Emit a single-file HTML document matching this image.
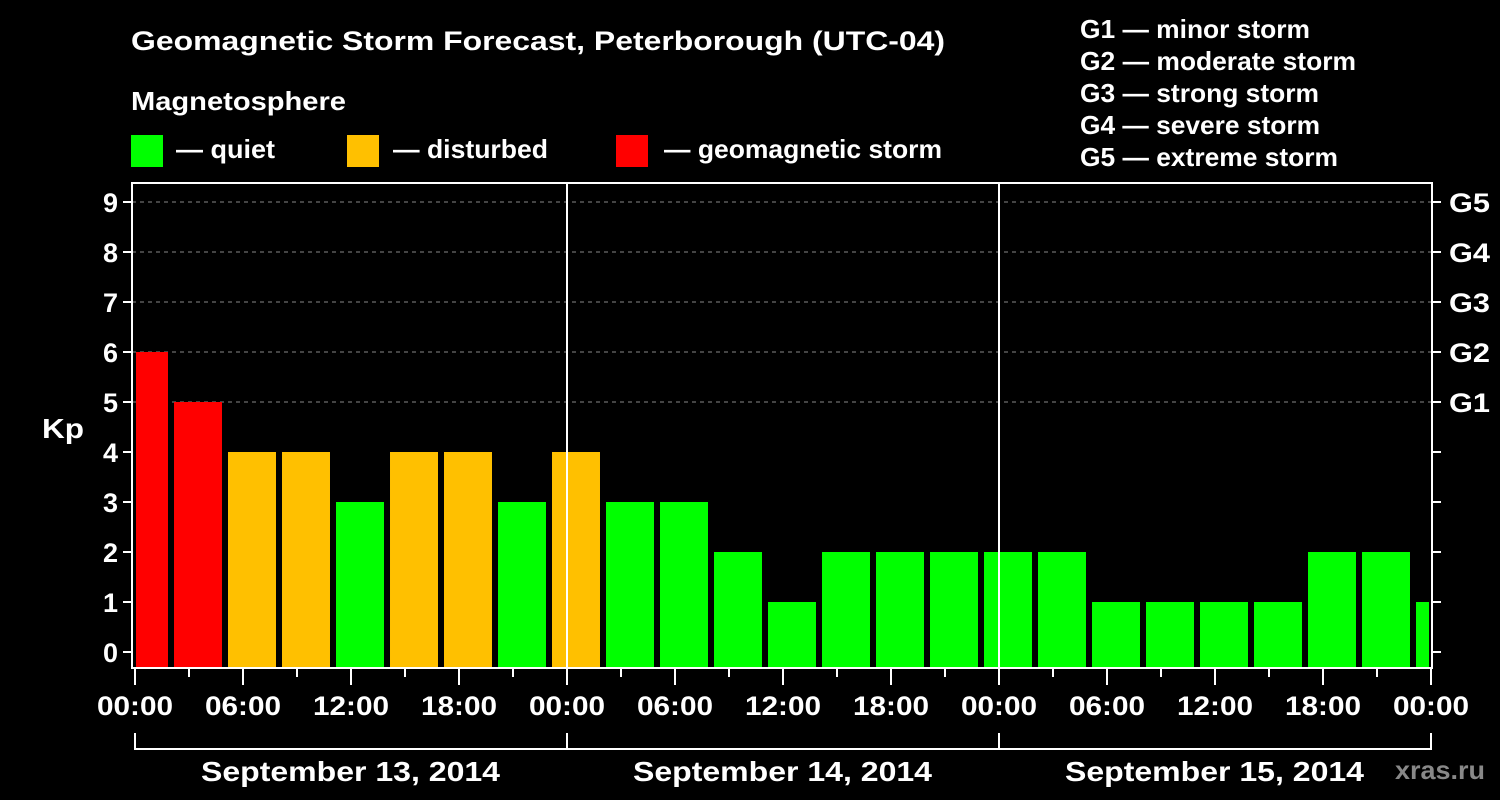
<!DOCTYPE html>
<html><head><meta charset="utf-8"><style>
html,body{margin:0;padding:0;background:#000;}
svg{display:block;font-family:"Liberation Sans",Arial,sans-serif;font-weight:bold;}
</style></head><body>
<svg id="chart" width="1500" height="800" viewBox="0 0 1500 800">
<rect x="0" y="0" width="1500" height="800" fill="#000"/>
<text x="131" y="50" fill="#fff" font-size="27" textLength="814" lengthAdjust="spacingAndGlyphs">Geomagnetic Storm Forecast, Peterborough (UTC-04)</text>
<text x="131" y="110" fill="#fff" font-size="26" textLength="215" lengthAdjust="spacingAndGlyphs">Magnetosphere</text>
<g>
<rect x="131" y="135" width="32" height="32" fill="#00ff00"/>
<text x="176" y="158" fill="#fff" font-size="26" textLength="99" lengthAdjust="spacingAndGlyphs">— quiet</text>
<rect x="347" y="135" width="32" height="32" fill="#ffc000"/>
<text x="393" y="158" fill="#fff" font-size="26" textLength="155" lengthAdjust="spacingAndGlyphs">— disturbed</text>
<rect x="616" y="135" width="32" height="32" fill="#ff0000"/>
<text x="664" y="158" fill="#fff" font-size="26" textLength="278" lengthAdjust="spacingAndGlyphs">— geomagnetic storm</text>
</g>
<g fill="#fff" font-size="26">
<text x="1080" y="38" textLength="230" lengthAdjust="spacingAndGlyphs">G1 — minor storm</text>
<text x="1080" y="70" textLength="276" lengthAdjust="spacingAndGlyphs">G2 — moderate storm</text>
<text x="1080" y="102" textLength="239" lengthAdjust="spacingAndGlyphs">G3 — strong storm</text>
<text x="1080" y="134" textLength="240" lengthAdjust="spacingAndGlyphs">G4 — severe storm</text>
<text x="1080" y="166" textLength="258" lengthAdjust="spacingAndGlyphs">G5 — extreme storm</text>
</g>
<text x="42" y="438" fill="#fff" font-size="28" textLength="42" lengthAdjust="spacingAndGlyphs">Kp</text>
<rect x="132" y="183" width="1300" height="485" fill="#000"/>
<g id="grid"></g>
<g id="bars"></g>
<g id="axes"></g>
<text x="1395" y="779" fill="#888" font-size="26" textLength="90" lengthAdjust="spacingAndGlyphs">xras.ru</text>
</svg>
<script>
const kpValues=[6,5,4,4,3,4,4,3,4,3,3,2,1,2,2,2,2,2,1,1,1,1,2,2,1];
const yTicks=[0,1,2,3,4,5,6,7,8,9];
const gridLevels=[5,6,7,8,9];
const gLabels=["G1","G2","G3","G4","G5"];
const xTickLabels=["00:00","06:00","12:00","18:00","00:00","06:00","12:00","18:00","00:00","06:00","12:00","18:00","00:00"];
const dayLabels=["September 13, 2014","September 14, 2014","September 15, 2014"];
const NS="http://www.w3.org/2000/svg";
const X0=135,PXH=18,Y0=652,PXU=50,PLOT_L=132,PLOT_R=1432,PLOT_T=183,PLOT_B=668;
const xs=h=>X0+h*PXH, ys=v=>Y0-v*PXU;
function mk(tag,attrs,parent){const e=document.createElementNS(NS,tag);for(const k in attrs)e.setAttribute(k,attrs[k]);parent.appendChild(e);return e;}
const grid=document.getElementById('grid'),bars=document.getElementById('bars'),axes=document.getElementById('axes');
gridLevels.forEach(v=>{const l=mk('line',{x1:PLOT_L,x2:PLOT_R,y1:ys(v),y2:ys(v),stroke:'#888','stroke-dasharray':'4,4','stroke-width':1},grid);

});
kpValues.forEach((v,i)=>{let l=xs(i*3-0.833),r=xs(i*3+1.833);l=Math.max(l,X0+1);r=Math.min(r,PLOT_R-3);
const c=v>=5?'#ff0000':(v>=4?'#ffc000':'#00ff00');
const b=mk('rect',{x:l,y:ys(v),width:r-l,height:PLOT_B-ys(v),fill:c},bars);

});
[24,48].forEach(h=>{const l=mk('line',{x1:xs(h),x2:xs(h),y1:PLOT_T,y2:PLOT_B,stroke:'#fff','stroke-width':2},axes);

});
const fr=mk('rect',{x:PLOT_L,y:PLOT_T,width:PLOT_R-PLOT_L,height:PLOT_B-PLOT_T,fill:'none',stroke:'#fff','stroke-width':2},axes);


yTicks.forEach(v=>{mk('line',{x1:PLOT_L-9,x2:PLOT_L,y1:ys(v),y2:ys(v),stroke:'#fff','stroke-width':2},axes);
mk('line',{x1:PLOT_R,x2:PLOT_R+9,y1:ys(v),y2:ys(v),stroke:'#fff','stroke-width':2},axes);
const t=mk('text',{x:PLOT_L-14,y:ys(v)+10,fill:'#fff','font-size':27,'text-anchor':'end'},axes);t.textContent=v;

});
gLabels.forEach((g,i)=>{const t=mk('text',{x:PLOT_R+17,y:ys(5+i)+10,fill:'#fff','font-size':27,textLength:41,lengthAdjust:'spacingAndGlyphs'},axes);t.textContent=g;

});
for(let h=0;h<=72;h+=3){const major=h%6===0;mk('line',{x1:xs(h),x2:xs(h),y1:PLOT_B+1,y2:major?685:677,stroke:'#fff','stroke-width':2},axes);}
xTickLabels.forEach((s,i)=>{const t=mk('text',{x:xs(i*6)-38,y:715,fill:'#fff','font-size':27,textLength:76,lengthAdjust:'spacingAndGlyphs'},axes);t.textContent=s;

});
mk('line',{x1:xs(0),x2:xs(72),y1:749,y2:749,stroke:'#fff','stroke-width':2},axes);
[0,24,48,72].forEach(h=>mk('line',{x1:xs(h),x2:xs(h),y1:733,y2:750,stroke:'#fff','stroke-width':2},axes));
dayLabels.forEach((s,i)=>{const t=mk('text',{x:xs(i*24+12)-150,y:781,fill:'#fff','font-size':28,textLength:299,lengthAdjust:'spacingAndGlyphs'},axes);t.textContent=s;

});
</script>
</body></html>
